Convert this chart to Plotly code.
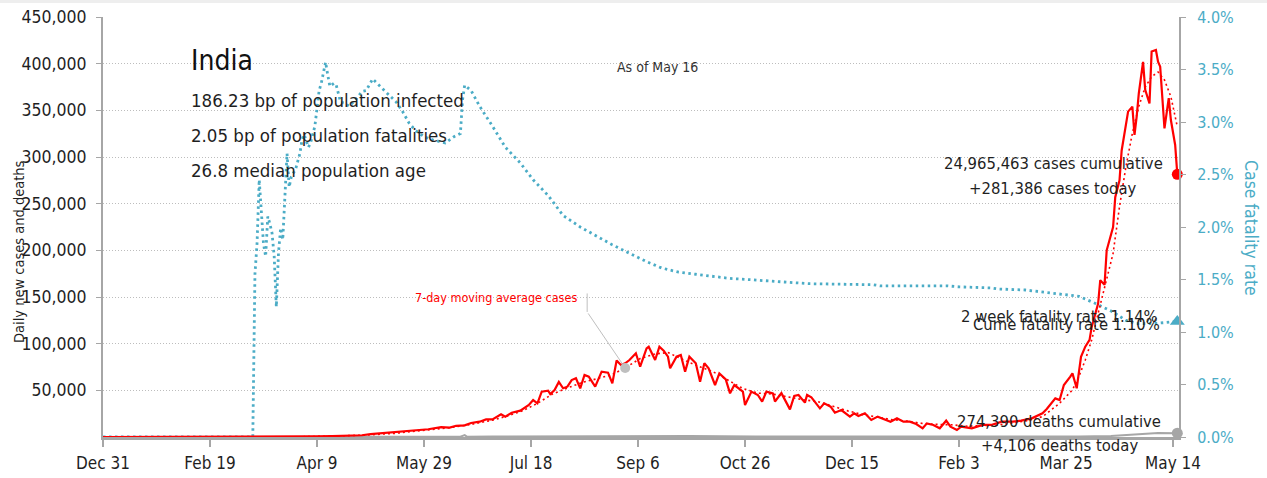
import plotly.graph_objects as go
import pandas as pd

# ---------------- data ----------------
country = "India"
as_of = "2021-05-16"

case_dates = [
    "2019-12-31", "2020-01-30", "2020-02-29", "2020-03-15", "2020-03-25", "2020-04-01",
    "2020-04-09", "2020-04-16", "2020-04-23", "2020-04-30", "2020-05-04", "2020-05-10",
    "2020-05-17", "2020-05-24", "2020-05-27", "2020-05-31", "2020-06-06", "2020-06-10",
    "2020-06-13", "2020-06-17", "2020-06-20", "2020-06-24", "2020-06-27", "2020-06-30",
    "2020-07-04", "2020-07-06", "2020-07-09", "2020-07-13", "2020-07-17", "2020-07-19",
    "2020-07-21", "2020-07-23", "2020-07-26", "2020-07-27", "2020-07-29", "2020-07-31",
    "2020-08-02", "2020-08-04", "2020-08-06", "2020-08-08", "2020-08-10", "2020-08-12",
    "2020-08-14", "2020-08-17", "2020-08-20", "2020-08-23", "2020-08-25", "2020-08-27",
    "2020-08-29", "2020-08-31", "2020-09-02", "2020-09-05", "2020-09-07", "2020-09-10",
    "2020-09-11", "2020-09-14", "2020-09-16", "2020-09-18", "2020-09-20", "2020-09-21",
    "2020-09-24", "2020-09-26", "2020-09-28", "2020-09-30", "2020-10-03", "2020-10-05",
    "2020-10-07", "2020-10-09", "2020-10-12", "2020-10-14", "2020-10-17", "2020-10-19",
    "2020-10-21", "2020-10-25", "2020-10-26", "2020-10-29", "2020-11-01", "2020-11-03",
    "2020-11-05", "2020-11-08", "2020-11-09", "2020-11-12", "2020-11-16", "2020-11-18",
    "2020-11-20", "2020-11-23", "2020-11-24", "2020-11-26", "2020-11-30", "2020-12-02",
    "2020-12-05", "2020-12-07", "2020-12-10", "2020-12-14", "2020-12-16", "2020-12-18",
    "2020-12-21", "2020-12-24", "2020-12-27", "2020-12-30", "2021-01-02", "2021-01-05",
    "2021-01-08", "2021-01-11", "2021-01-14", "2021-01-17", "2021-01-19", "2021-01-22",
    "2021-01-25", "2021-01-28", "2021-01-30", "2021-02-02", "2021-02-04", "2021-02-09",
    "2021-02-14", "2021-02-18", "2021-02-23", "2021-02-28", "2021-03-04", "2021-03-09",
    "2021-03-14", "2021-03-16", "2021-03-18", "2021-03-20", "2021-03-22", "2021-03-24",
    "2021-03-27", "2021-03-28", "2021-03-30", "2021-04-01", "2021-04-03", "2021-04-05",
    "2021-04-06", "2021-04-09", "2021-04-10", "2021-04-12", "2021-04-13", "2021-04-16",
    "2021-04-17", "2021-04-19", "2021-04-20", "2021-04-23", "2021-04-25", "2021-04-26",
    "2021-04-27", "2021-04-28", "2021-04-30", "2021-05-01", "2021-05-03", "2021-05-04",
    "2021-05-06", "2021-05-07", "2021-05-08", "2021-05-10", "2021-05-12", "2021-05-13",
    "2021-05-15", "2021-05-16",
]
case_values = [
    0, 1, 0, 20, 100, 400,
    600, 1000, 1400, 1900, 3000, 4200,
    5000, 6600, 7500, 8300, 10500, 10000,
    12000, 12500, 15000, 16400, 18900, 18900,
    24300, 21800, 26000, 28200, 34300, 39600,
    36100, 48600, 49600, 46000, 50400, 59000,
    52200, 53900, 61000, 62900, 52100, 66400,
    64600, 53900, 70000, 68900, 57500, 82000,
    77100, 79000, 82500, 89700, 75300, 95000,
    96800, 82500, 96800, 92500, 86000, 73600,
    86000, 87900, 70000, 86000, 79000, 59300,
    79000, 73600, 55700, 68200, 61800, 46800,
    55700, 48600, 34300, 48600, 45000, 37900,
    48600, 46800, 38000, 47000, 29600, 43900,
    45000, 36800, 45000, 42500, 30700, 36100,
    32500, 26000, 28900, 21800, 25400, 22500,
    25400, 18200, 21800, 18900, 16400, 20000,
    16400, 16400, 13900, 9300, 14600, 12900,
    9300, 17500, 11000, 7500, 11000, 9300,
    12900, 12900, 16400, 16400, 17500, 20000,
    25400, 30000, 36100, 41400, 39600, 55700,
    64600, 68200, 52200, 86000, 96800, 104000,
    118000, 143000, 168000, 163000, 200000, 225000,
    257000, 275000, 307000, 348600, 354000, 323600,
    343000, 368000, 402000, 372000, 357500, 413000,
    414600, 402000, 396800, 330700, 363000, 339600,
    312900, 281386,
]

ma_dates = [
    "2019-12-31", "2020-03-01", "2020-03-31", "2020-04-15", "2020-05-01", "2020-05-15",
    "2020-05-29", "2020-06-10", "2020-06-20", "2020-06-30", "2020-07-07", "2020-07-14",
    "2020-07-21", "2020-07-28", "2020-08-04", "2020-08-11", "2020-08-18", "2020-08-25",
    "2020-08-31", "2020-09-07", "2020-09-14", "2020-09-20", "2020-09-27", "2020-10-04",
    "2020-10-11", "2020-10-18", "2020-10-25", "2020-11-01", "2020-11-08", "2020-11-15",
    "2020-11-22", "2020-11-29", "2020-12-06", "2020-12-13", "2020-12-20", "2020-12-27",
    "2021-01-03", "2021-01-10", "2021-01-17", "2021-01-24", "2021-01-31", "2021-02-07",
    "2021-02-14", "2021-02-21", "2021-02-28", "2021-03-07", "2021-03-14", "2021-03-22",
    "2021-03-28", "2021-03-31", "2021-04-03", "2021-04-06", "2021-04-09", "2021-04-12",
    "2021-04-16", "2021-04-19", "2021-04-22", "2021-04-25", "2021-04-28", "2021-05-01",
    "2021-05-04", "2021-05-07", "2021-05-10", "2021-05-13", "2021-05-16",
]
ma_values = [
    0, 0, 200, 900, 2000, 3800,
    7000, 10000, 13500, 18000, 22500, 28000,
    36000, 46000, 52500, 58500, 62500, 67000,
    74000, 84000, 89000, 90500, 83000, 76000,
    70000, 61000, 52000, 47000, 46000, 43000,
    40000, 38000, 33000, 28000, 24000, 21000,
    18500, 17000, 14500, 13500, 13000, 11500,
    12000, 13000, 15000, 17500, 21800, 36100,
    50400, 64600, 82500, 104000, 132500, 161000,
    196800, 246800, 289600, 325400, 354000, 375000,
    386000, 391000, 382500, 364600, 332500,
]

death_dates = [
    "2019-12-31", "2020-03-31", "2020-04-30", "2020-05-31", "2020-06-15", "2020-06-17",
    "2020-06-18", "2020-06-30", "2020-07-31", "2020-08-31", "2020-09-15", "2020-09-30",
    "2020-10-31", "2020-11-30", "2020-12-31", "2021-01-31", "2021-02-28", "2021-03-31",
    "2021-04-15", "2021-04-30", "2021-05-07", "2021-05-16",
]
death_values = [
    0, 10, 70, 230, 380, 2000,
    340, 500, 780, 1000, 1200, 1150,
    550, 450, 280, 120, 110, 460,
    1200, 3500, 4200, 4106,
]

cfr_dates = [
    "2019-12-31", "2020-03-10", "2020-03-11", "2020-03-12", "2020-03-13", "2020-03-14",
    "2020-03-15", "2020-03-16", "2020-03-17", "2020-03-18", "2020-03-19", "2020-03-20",
    "2020-03-21", "2020-03-22", "2020-03-23", "2020-03-24", "2020-03-25", "2020-03-26",
    "2020-03-27", "2020-03-28", "2020-03-30", "2020-04-01", "2020-04-02", "2020-04-03",
    "2020-04-05", "2020-04-06", "2020-04-08", "2020-04-10", "2020-04-11", "2020-04-13",
    "2020-04-14", "2020-04-15", "2020-04-17", "2020-04-18", "2020-04-20", "2020-04-22",
    "2020-04-24", "2020-04-27", "2020-04-30", "2020-05-02", "2020-05-05", "2020-05-08",
    "2020-05-10", "2020-05-13", "2020-05-16", "2020-05-19", "2020-05-22", "2020-05-25",
    "2020-05-29", "2020-06-02", "2020-06-08", "2020-06-12", "2020-06-15", "2020-06-16",
    "2020-06-17", "2020-06-20", "2020-06-24", "2020-06-30", "2020-07-06", "2020-07-13",
    "2020-07-19", "2020-07-26", "2020-08-02", "2020-08-10", "2020-08-17", "2020-08-25",
    "2020-09-02", "2020-09-10", "2020-09-17", "2020-09-25", "2020-10-03", "2020-10-11",
    "2020-10-19", "2020-10-27", "2020-11-03", "2020-11-11", "2020-11-25", "2020-12-25",
    "2020-12-28", "2021-01-28", "2021-02-03", "2021-02-18", "2021-02-21", "2021-03-06",
    "2021-03-14", "2021-03-22", "2021-03-31", "2021-04-08", "2021-04-16", "2021-04-22",
    "2021-04-27", "2021-05-05", "2021-05-16",
]
cfr_values = [
    0, 0, 1.55, 1.85, 2.45, 2.15,
    1.84, 1.72, 2.10, 2.03, 1.94, 1.72,
    1.24, 1.75, 1.99, 1.88, 2.29, 2.70,
    2.38, 2.48, 2.55, 2.70, 2.83, 2.88,
    2.76, 2.80, 2.96, 3.30, 3.37, 3.57,
    3.45, 3.34, 3.37, 3.35, 3.19, 3.18,
    3.15, 3.21, 3.29, 3.30, 3.41, 3.35,
    3.32, 3.26, 3.19, 3.10, 2.99, 2.92,
    2.86, 2.83, 2.80, 2.86, 2.89, 3.21,
    3.35, 3.30, 3.15, 2.96, 2.76, 2.61,
    2.45, 2.30, 2.11, 2.00, 1.92, 1.83,
    1.75, 1.67, 1.61, 1.57, 1.55, 1.53,
    1.51, 1.50, 1.49, 1.48, 1.46, 1.45,
    1.44, 1.44, 1.43, 1.42, 1.41, 1.40,
    1.38, 1.36, 1.34, 1.27, 1.19, 1.11,
    1.08, 1.08, 1.10,
]

cases_cumulative = 24965463
deaths_cumulative = 274390
two_week_cfr = 1.14
bp_infected = 186.23
bp_fatalities = 2.05
median_age = 26.8
ma_callout_date = "2020-08-31"

x_tick_start = "2019-12-31"
x_tick_step_days = 50
x_tick_count = 11
left_tick_values = [50000, 100000, 150000, 200000, 250000, 300000, 350000, 400000, 450000]

# ---------------- styling ----------------
RED = "#FF0000"
BLUE = "#4BACC6"
GREY = "#A6A6A6"
GRID = "#BDBDBD"
TEXT = "#1F1F1F"
FONT = "DejaVu Sans Condensed, sans-serif"

W, H = 1267, 478
ML, MR, MT, MB = 103, 88, 17, 41


def paper_x(px):
    return (px - ML) / (W - ML - MR)


def paper_y(py):
    return (H - MB - py) / (H - MT - MB)


x_ticks = pd.date_range(x_tick_start, periods=x_tick_count, freq=f"{x_tick_step_days}D")
x_end = pd.Timestamp(as_of) + pd.Timedelta(hours=19)

fig = go.Figure()

# case fatality rate on the primary (right-hand) axis so the case lines sit above it
fig.add_trace(go.Scatter(
    x=cfr_dates, y=cfr_values, mode="lines", yaxis="y",
    line=dict(color=BLUE, width=2.8, dash="2.5px,3.5px"), hoverinfo="skip",
))
fig.add_trace(go.Scatter(
    x=[cfr_dates[-1]], y=[cfr_values[-1]], mode="markers", yaxis="y", cliponaxis=False,
    marker=dict(color=BLUE, size=13, symbol="triangle-up"), hoverinfo="skip",
))

# daily deaths
fig.add_trace(go.Scatter(
    x=death_dates, y=death_values, mode="lines", yaxis="y2",
    line=dict(color=GREY, width=2), hoverinfo="skip",
))
fig.add_trace(go.Scatter(
    x=[death_dates[-1]], y=[death_values[-1]], mode="markers", yaxis="y2", cliponaxis=False,
    marker=dict(color=GREY, size=11), hoverinfo="skip",
))

# 7-day moving average of cases
fig.add_trace(go.Scatter(
    x=ma_dates, y=ma_values, mode="lines", yaxis="y2",
    line=dict(color=RED, width=1.6, dash="2px,3px"), hoverinfo="skip",
))

# daily cases
fig.add_trace(go.Scatter(
    x=case_dates, y=case_values, mode="lines", yaxis="y2",
    line=dict(color=RED, width=2.2), hoverinfo="skip",
))
fig.add_trace(go.Scatter(
    x=[case_dates[-1]], y=[case_values[-1]], mode="markers", yaxis="y2", cliponaxis=False,
    marker=dict(color=RED, size=11), hoverinfo="skip",
))

ma_idx = ma_dates.index(ma_callout_date)
ma_point = (ma_dates[ma_idx], ma_values[ma_idx])
fig.add_trace(go.Scatter(
    x=[ma_point[0]], y=[ma_point[1]], mode="markers", yaxis="y2",
    marker=dict(color="#BFBFBF", size=10), hoverinfo="skip",
))

as_of_ts = pd.Timestamp(as_of)
cume_cfr = deaths_cumulative / cases_cumulative * 100


def end_label(text, x, y, yref, xshift, yshift):
    return dict(text=text, x=x, y=y, xref="x", yref=yref, xanchor="center",
                yanchor="middle", xshift=xshift, yshift=yshift, showarrow=False,
                font=dict(size=16.5, color=TEXT))


annotations = [
    dict(text=country, x=paper_x(189), y=paper_y(61), xref="paper", yref="paper",
         xanchor="left", yanchor="middle", showarrow=False, font=dict(size=28, color="#111111")),
    dict(text=f"{bp_infected:.2f} bp of population infected", x=paper_x(189), y=paper_y(101),
         xref="paper", yref="paper", xanchor="left", yanchor="middle", showarrow=False,
         font=dict(size=18.5, color=TEXT)),
    dict(text=f"{bp_fatalities:.2f} bp of population fatalities", x=paper_x(189), y=paper_y(135),
         xref="paper", yref="paper", xanchor="left", yanchor="middle", showarrow=False,
         font=dict(size=18.5, color=TEXT)),
    dict(text=f"{median_age:.1f} median population age", x=paper_x(189), y=paper_y(170),
         xref="paper", yref="paper", xanchor="left", yanchor="middle", showarrow=False,
         font=dict(size=18.5, color=TEXT)),
    dict(text=f"As of {as_of_ts.strftime('%b')} {as_of_ts.day}", x=paper_x(657), y=paper_y(67),
         xref="paper", yref="paper", xanchor="center", yanchor="middle", showarrow=False,
         font=dict(size=14, color="#333333")),
    # end-of-series labels, two lines each centred on a common column
    end_label(f"{cases_cumulative:,} cases cumulative", case_dates[-1], case_values[-1], "y2", -124, 11),
    end_label(f"+{case_values[-1]:,} cases today", case_dates[-1], case_values[-1], "y2", -124, -14),
    end_label(f"{deaths_cumulative:,} deaths cumulative", death_dates[-1], death_values[-1], "y2", -118, 12),
    end_label(f"+{death_values[-1]:,} deaths today", death_dates[-1], death_values[-1], "y2", -118, -12),
    dict(text=f"2 week fatality rate {two_week_cfr:.2f}%", x=cfr_dates[-1], y=cfr_values[-1],
         xref="x", yref="y", xanchor="right", yanchor="middle", xshift=-17, yshift=5,
         showarrow=False, font=dict(size=16.5, color=TEXT)),
    dict(text=f"Cume fatality rate {cume_cfr:.2f}%", x=cfr_dates[-1], y=cfr_values[-1],
         xref="x", yref="y", xanchor="right", yanchor="middle", xshift=-15, yshift=-3,
         showarrow=False, font=dict(size=16.5, color=TEXT)),
    # moving-average callout with leader
    dict(text="", x=ma_point[0], y=ma_point[1], xref="x", yref="y2", showarrow=True,
         arrowhead=0, arrowwidth=1, arrowcolor="#BFBFBF", ax=-38, ay=-56),
    dict(text="", x=ma_point[0], y=ma_point[1], xref="x", yref="y2", showarrow=True,
         arrowhead=0, arrowwidth=1, arrowcolor="#BFBFBF", ax=0, ay=-20, xshift=-38, yshift=56),
    dict(text="7-day moving average cases", x=ma_point[0], y=ma_point[1], xref="x", yref="y2",
         xanchor="right", yanchor="middle", xshift=-46, yshift=70, showarrow=False,
         font=dict(size=12.5, color=RED)),
    # axis titles
    dict(text="Daily new cases and deaths", x=paper_x(19), y=paper_y(252), xref="paper",
         yref="paper", xanchor="center", yanchor="middle", textangle=-90, showarrow=False,
         font=dict(size=14.5, color=TEXT)),
    dict(text="Case fatality rate", x=paper_x(1251), y=paper_y(228), xref="paper",
         yref="paper", xanchor="center", yanchor="middle", textangle=90, showarrow=False,
         font=dict(size=17.5, color=BLUE)),
]

fig.update_layout(
    width=W, height=H,
    margin=dict(l=ML, r=MR, t=MT, b=MB, pad=0, autoexpand=False),
    paper_bgcolor="white", plot_bgcolor="white",
    showlegend=False,
    font=dict(family=FONT, color=TEXT, size=17),
    shapes=[dict(type="rect", xref="paper", yref="paper", x0=paper_x(0), x1=paper_x(W),
                 y0=paper_y(3), y1=paper_y(0), fillcolor="#EEEEEE", line=dict(width=0),
                 layer="below")],
    xaxis=dict(
        type="date", range=[x_tick_start, x_end], tickvals=x_ticks, tickformat="%b %-d",
        showgrid=False, showline=True, linecolor=GREY, linewidth=3, automargin=False,
        ticks="outside", ticklen=7, tickcolor=GREY, tickwidth=1.5, ticklabelstandoff=2,
        tickfont=dict(size=17, color=TEXT), zeroline=False,
    ),
    yaxis=dict(
        range=[0, 4.0], side="right", dtick=0.5, tick0=0, tickformat=".1f", ticksuffix="%",
        showgrid=False, showline=True, linecolor=GREY, linewidth=2, automargin=False,
        ticks="outside", ticklen=5, tickcolor=GREY, zeroline=False, ticklabelstandoff=8,
        tickfont=dict(size=16, color=BLUE),
    ),
    yaxis2=dict(
        range=[0, 450000], overlaying="y", side="left", tickvals=left_tick_values,
        tickformat=",", showgrid=True, gridcolor=GRID, gridwidth=1, griddash="1px,2px",
        showline=True, linecolor=GREY, linewidth=2, ticks="outside", ticklen=5,
        automargin=False, ticklabelstandoff=6,
        tickcolor=GREY, zeroline=False, tickfont=dict(size=17.5, color=TEXT),
    ),
    annotations=annotations,
)

fig.write_html("out.html")
